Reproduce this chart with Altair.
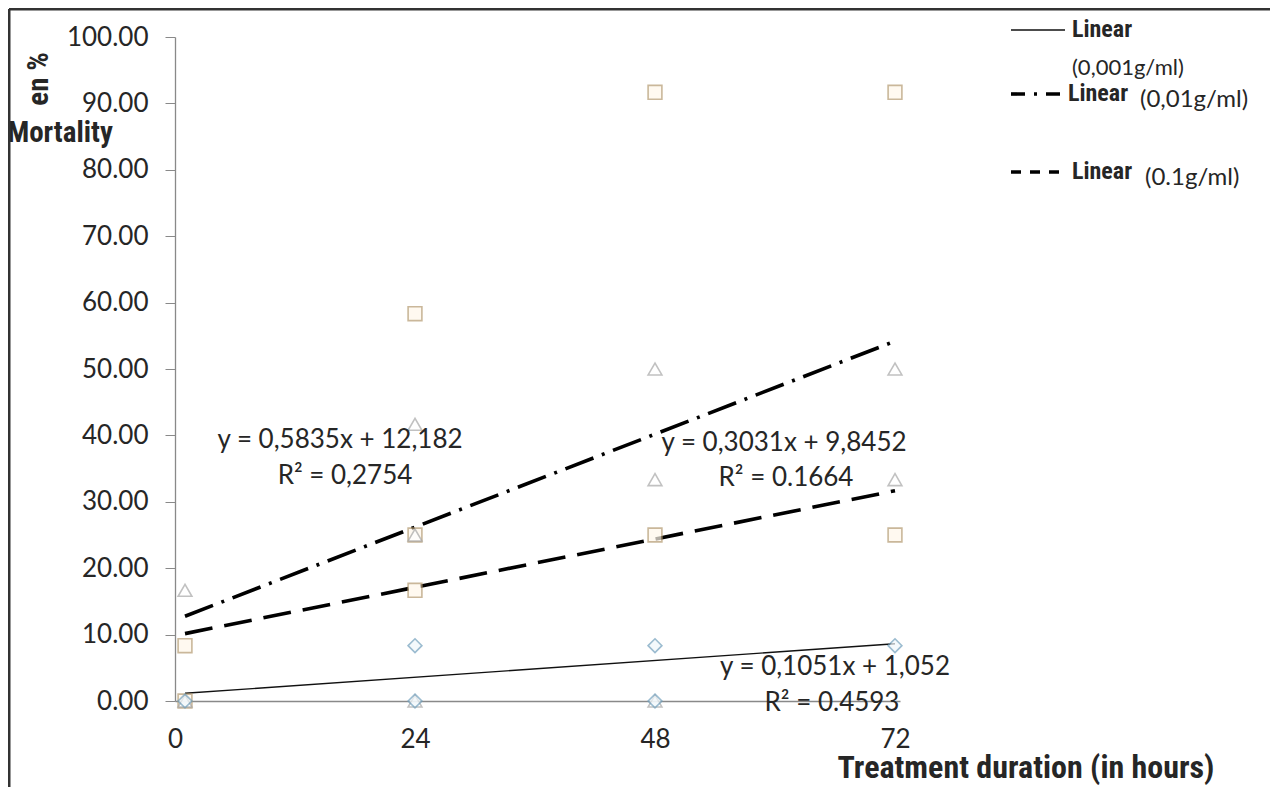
import altair as alt
import pandas as pd

# ---------------- data ----------------
hours_sq = [1, 1, 24, 24, 24, 48, 48, 72, 72]
mort_sq = [8.33, 0.0, 58.33, 25.0, 16.67, 91.67, 25.0, 91.67, 25.0]

hours_tri = [1, 1, 24, 24, 24, 48, 48, 48, 72, 72]
mort_tri = [16.67, 0.0, 41.67, 25.0, 0.0, 50.0, 33.33, 0.0, 50.0, 33.33]

hours_dia = [1, 24, 24, 48, 48, 72]
mort_dia = [0.0, 8.33, 0.0, 8.33, 0.0, 8.33]

# trendlines printed on the chart (y = a x + b), drawn from x=1 to x=72
trend_names = ["0,001g/ml", "0,01g/ml", "0.1g/ml"]
trend_slopes = [0.1051, 0.5835, 0.3031]
trend_inters = [1.052, 12.182, 9.8452]
trend_x = [1, 72]

equations = ["y = 0,1051x + 1,052", "y = 0,5835x + 12,182", "y = 0,3031x + 9,8452"]
r2_labels = ["R² = 0.4593", "R² = 0,2754", "R² = 0.1664"]

x_ticks = [0, 24, 48, 72]
y_ticks = [0, 10, 20, 30, 40, 50, 60, 70, 80, 90, 100]

legend_main = ["Linear", "Linear", "Linear"]
legend_sub = ["(0,001g/ml)", "(0,01g/ml)", "(0.1g/ml)"]

x_title = "Treatment duration (in hours)"
y_title_a = "Mortality"
y_title_b = "en %"

# ---------------- build ----------------
W, H = 725, 664
NUM_FONT = "Lato"
BOLD_FONT = "Liberation Sans Narrow, Roboto Condensed, Liberation Sans"
GRAY = "#898989"
TXT = "#262626"
EQ_SIZE = 26

xs = alt.Scale(domain=[0, 72.5], nice=False, zero=False)
ys = alt.Scale(domain=[0, 100], nice=False)

pts = pd.concat([
    pd.DataFrame({"h": hours_sq, "m": mort_sq, "s": "sq"}),
    pd.DataFrame({"h": hours_tri, "m": mort_tri, "s": "tri"}),
    pd.DataFrame({"h": hours_dia, "m": mort_dia, "s": "dia"}),
], ignore_index=True)

x_axis = alt.Axis(values=x_ticks, title=None, grid=False, ticks=False,
                  domainColor=GRAY, domainWidth=1.3, labelFont=NUM_FONT,
                  labelFontSize=26, labelColor=TXT, labelPadding=25,
                  labelFlush=False)
y_axis = alt.Axis(values=y_ticks, title=None, grid=False, format=".2f",
                  tickSize=10, tickColor=GRAY, domainColor=GRAY,
                  domainWidth=1.3, labelFont=NUM_FONT, labelFontSize=26,
                  labelColor=TXT, labelPadding=17)

points = alt.Chart(pts).mark_point(size=190, strokeWidth=1.6, filled=False).encode(
    x=alt.X("h:Q", scale=xs, axis=x_axis),
    y=alt.Y("m:Q", scale=ys, axis=y_axis),
    shape=alt.Shape("s:N", scale=alt.Scale(domain=["sq", "tri", "dia"],
                    range=["square", "triangle-up", "diamond"]), legend=None),
    stroke=alt.Stroke("s:N", scale=alt.Scale(domain=["sq", "tri", "dia"],
                      range=["#b49a70", "#a8a8a8", "#72a0bd"]), legend=None),
    fill=alt.Fill("s:N", scale=alt.Scale(domain=["sq", "tri", "dia"],
                  range=["#fff7ea", "#ffffff", "#f0f7fb"]), legend=None),
)

trend_rows = []
for name, a, b in zip(trend_names, trend_slopes, trend_inters):
    for xv in trend_x:
        trend_rows.append({"name": name, "h": xv, "m": a * xv + b})
tdf = pd.DataFrame(trend_rows)

DASHDOT = [30, 9, 3, 9]
DASHED = [28, 12]
styles = {
    "0,001g/ml": dict(strokeWidth=1.4, color="#111111"),
    "0,01g/ml": dict(strokeWidth=3.6, color="#000000", strokeDash=DASHDOT),
    "0.1g/ml": dict(strokeWidth=3.6, color="#000000", strokeDash=DASHED),
}
trend_layers = []
for name in trend_names:
    trend_layers.append(
        alt.Chart(tdf[tdf["name"] == name]).mark_line(**styles[name]).encode(
            x=alt.X("h:Q", scale=xs), y=alt.Y("m:Q", scale=ys))
    )


def label(text, x, y, font=NUM_FONT, size=23, weight="normal", align="center",
          angle=0, color=TXT, baseline="middle"):
    kw = dict(font=font, fontSize=size, fontWeight=weight, align=align,
              baseline=baseline, color=color)
    if angle:
        kw["angle"] = angle
    return alt.Chart(pd.DataFrame({"t": [text]})).mark_text(**kw).encode(
        text="t:N", x=alt.value(x), y=alt.value(y))


texts = [
    label(equations[1], 165, 403, size=EQ_SIZE),
    label(r2_labels[1], 170, 439, size=EQ_SIZE),
    label(equations[2], 609, 406, size=EQ_SIZE),
    label(r2_labels[2], 611, 441, size=EQ_SIZE),
    label(equations[0], 660, 630, size=EQ_SIZE),
    label(r2_labels[0], 657, 666, size=EQ_SIZE),
    label(y_title_a, -115, 96, font=BOLD_FONT, size=29, weight="bold"),
    label(y_title_b, -136, 42, font=BOLD_FONT, size=29, weight="bold", angle=270),
    label(x_title, 851, 731, font=BOLD_FONT, size=32, weight="bold"),
    # legend
    label(legend_main[0], 897, -7, font=BOLD_FONT, size=24, weight="bold", align="left"),
    label(legend_sub[0], 897, 31, size=22, align="left"),
    label(legend_main[1], 893, 57, font=BOLD_FONT, size=24, weight="bold", align="left"),
    label(legend_sub[1], 965, 63, size=24, align="left"),
    label(legend_main[2], 897, 135, font=BOLD_FONT, size=24, weight="bold", align="left"),
    label(legend_sub[2], 970, 141, size=24, align="left"),
]


def seg(x1, x2, y, **kw):
    return alt.Chart(pd.DataFrame({"k": [0]})).mark_rule(**kw).encode(
        x=alt.value(x1), x2=alt.value(x2), y=alt.value(y))


legend_lines = [
    seg(836, 890, -7, strokeWidth=1.4, color="#111111"),
    seg(836, 887, 57, strokeWidth=3.6, color="#000000", strokeDash=[14, 9, 3, 9]),
    seg(836, 887, 135, strokeWidth=3.6, color="#000000", strokeDash=[10, 9]),
]

frame = [
    alt.Chart(pd.DataFrame({"k": [0]})).mark_rule(strokeWidth=3, color="#333333").encode(
        x=alt.value(-166), x2=alt.value(1110), y=alt.value(-28)),
    alt.Chart(pd.DataFrame({"k": [0]})).mark_rule(strokeWidth=3, color="#333333").encode(
        x=alt.value(-166), y=alt.value(-28), y2=alt.value(765)),
]

chart = alt.layer(*trend_layers, points, *texts, *legend_lines, *frame).properties(
    width=W, height=H,
    padding={"left": 167, "top": 29, "right": 370, "bottom": 86},
    autosize=alt.AutoSizeParams(type="none"),
    background="white",
).configure_view(stroke=None)

chart.save("out.html", embed_options={"renderer": "svg", "actions": False})
